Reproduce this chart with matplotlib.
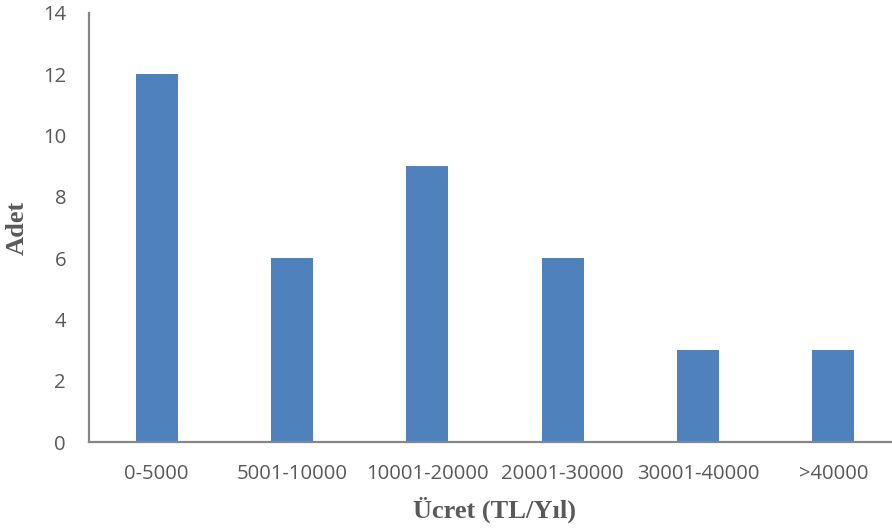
import matplotlib
matplotlib.use("Agg")
import matplotlib.pyplot as plt

categories = ["0-5000", "5001-10000", "10001-20000", "20001-30000", "30001-40000", ">40000"]
counts = [12, 6, 9, 6, 3, 3]
yticks = [0, 2, 4, 6, 8, 10, 12, 14]

BAR, SPINE, TXT = "#4F81BD", "#868686", "#595959"

fig = plt.figure(figsize=(8.92, 5.31), dpi=100)
# axes runs slightly past the right edge of the figure, like the source image
ax = fig.add_axes([89 / 892, 89 / 531, 812 / 892, 429 / 531])

x = range(len(categories))
ax.bar(x, counts, width=0.31, color=BAR, zorder=2)

ax.set_xlim(-0.5, len(categories) - 0.5)
ax.set_ylim(0, 14)
ax.set_yticks(yticks)
ax.set_xticks(list(x))
ax.set_xticklabels(categories)
ax.tick_params(length=0, labelsize=14.6, labelcolor=TXT)
ax.tick_params(axis="y", pad=16.5)
ax.tick_params(axis="x", pad=16)
for lab in ax.get_xticklabels() + ax.get_yticklabels():
    lab.set_fontfamily("Open Sans")

for s in ["top", "right"]:
    ax.spines[s].set_visible(False)
for s in ["left", "bottom"]:
    ax.spines[s].set_color(SPINE)
    ax.spines[s].set_linewidth(1.6)

ax.set_ylabel("Adet", fontsize=19, fontweight="bold", family="Liberation Serif", color=TXT, labelpad=10)
ax.set_xlabel("Ücret (TL/Yıl)", fontsize=19, fontweight="bold", family="Liberation Serif", color=TXT, labelpad=9)

fig.savefig("out.png", dpi=100)
